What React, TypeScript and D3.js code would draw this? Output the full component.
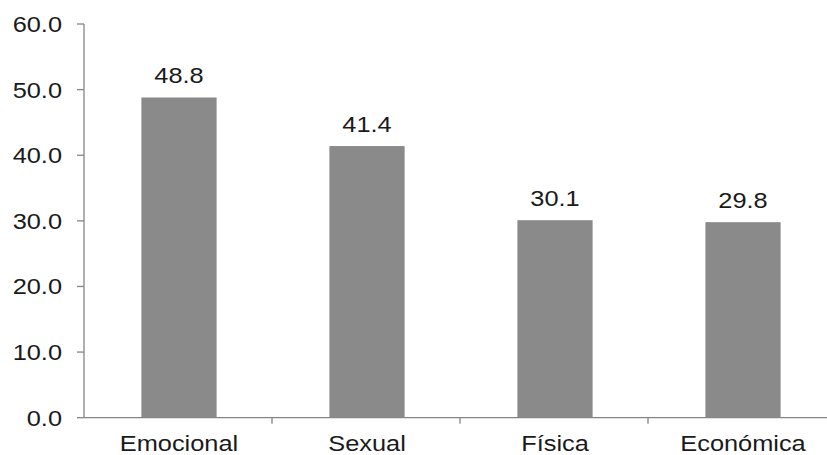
import React from "react";
import * as d3 from "d3";

const categories: string[] = ["Emocional", "Sexual", "Física", "Económica"];
const values: number[] = [48.8, 41.4, 30.1, 29.8];
const yTicks: number[] = [0, 10, 20, 30, 40, 50, 60];

const W = 827;
const H = 455;
const left = 84;
const top = 24;
const bottom = 417.7;
const bandW = 188;

export default function App() {
  const x = d3
    .scaleBand<string>()
    .domain(categories)
    .range([left, left + bandW * categories.length])
    .paddingInner(0.6)
    .paddingOuter(0.3);
  const y = d3.scaleLinear().domain([0, 60]).range([bottom, top]);
  const fmt = d3.format(".1f");
  const font = "Liberation Sans, Arial, sans-serif";
  const sx = 1.18;
  const txt = "#1a1a1a";
  const axisCol = "#868686";
  const boundaries = d3.range(1, categories.length).map((i) => left + i * bandW);

  return (
    <svg
      width={W}
      height={H}
      style={{ position: "absolute", left: 0, top: 0, background: "#fff" }}
      fontFamily={font}
    >
      {categories.map((c, i) => (
        <rect
          key={c}
          x={x(c)! + 1}
          y={y(values[i])}
          width={x.bandwidth()}
          height={bottom - y(values[i])}
          fill="#8a8a8a"
        />
      ))}
      <line x1={left} x2={left} y1={top} y2={bottom} stroke={axisCol} strokeWidth={1.3} />
      <line x1={left} x2={W} y1={bottom} y2={bottom} stroke={axisCol} strokeWidth={1.3} />
      {yTicks.map((t) => (
        <g key={t}>
          <line x1={left - 7} x2={left} y1={y(t)} y2={y(t)} stroke={axisCol} strokeWidth={1.3} />
          <text
            transform={`translate(62,${y(t) + 8}) scale(${sx},1)`}
            textAnchor="end"
            fontSize={21.5}
            fill={txt}
          >
            {fmt(t)}
          </text>
        </g>
      ))}
      {boundaries.map((b, i) => (
        <line key={i} x1={b} x2={b} y1={bottom} y2={bottom + 6} stroke={axisCol} strokeWidth={1.3} />
      ))}
      {categories.map((c, i) => {
        const cx = x(c)! + x.bandwidth() / 2 + 1;
        return (
          <g key={c}>
            <text
              transform={`translate(${cx},${y(values[i]) - 14}) scale(${sx},1)`}
              textAnchor="middle"
              fontSize={21.5}
              fill={txt}
            >
              {fmt(values[i])}
            </text>
            <text
              transform={`translate(${cx},${451}) scale(${sx},1)`}
              textAnchor="middle"
              fontSize={21.5}
              fill={txt}
            >
              {c}
            </text>
          </g>
        );
      })}
    </svg>
  );
}
